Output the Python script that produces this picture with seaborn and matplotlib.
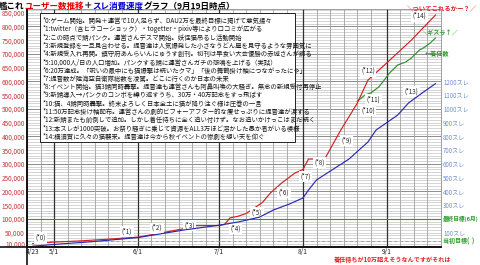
import matplotlib
matplotlib.use('Agg')
import matplotlib.pyplot as plt
import matplotlib.dates as mdates
from matplotlib.lines import Line2D
from matplotlib.patches import Rectangle
import matplotlib.transforms as mtransforms
import numpy as np
import pandas as pd
import seaborn as sns

# ---------------- data ----------------
user_dates = ["2013-04-23", "2013-04-26", "2013-05-01", "2013-05-10", "2013-05-20",
              "2013-06-01", "2013-06-10", "2013-06-18", "2013-06-21", "2013-06-23",
              "2013-07-01", "2013-07-03", "2013-07-05", "2013-07-08", "2013-07-11",
              "2013-07-14", "2013-07-17", "2013-07-20", "2013-07-24", "2013-07-29",
              "2013-08-01", "2013-08-03", "2013-08-09", "2013-08-15", "2013-08-21",
              "2013-08-25", "2013-09-01", "2013-09-10", "2013-09-19"]
user_values = [10000, 12000, 16000, 20000, 26000,
               34000, 50000, 65000, 74000, 76000,
               76000, 80000, 104000, 110000, 120000,
               140000, 160000, 195000, 230000, 267000,
               280000, 318000, 318000, 424000, 520000,
               605000, 668000, 750000, 842000]

thread_dates = ["2013-04-23", "2013-05-01", "2013-05-15", "2013-06-01", "2013-06-18",
                "2013-07-01", "2013-07-08", "2013-07-16", "2013-07-21", "2013-07-27",
                "2013-08-01", "2013-08-03", "2013-08-06", "2013-08-10", "2013-08-18",
                "2013-08-25", "2013-08-28", "2013-09-05", "2013-09-09", "2013-09-14",
                "2013-09-19"]
thread_values = [2, 15, 35, 65, 120,
                 155, 178, 214, 265, 309,
                 353, 410, 484, 535, 636,
                 760, 847, 956, 1044, 1116,
                 1185]

assigned_dates = ["2013-08-21", "2013-08-24", "2013-08-26", "2013-08-29", "2013-08-31",
                  "2013-09-02", "2013-09-05", "2013-09-08", "2013-09-10", "2013-09-13",
                  "2013-09-15", "2013-09-17", "2013-09-19"]
assigned_values = [528000, 551000, 558000, 580000, 605000,
                   631000, 660000, 671000, 685000, 714000,
                   725000, 740000, 758000]

event_labels = ["(*0)", "(*1)", "(*2)", "(*3)", "(*4)", "(*5)", "(*6)", "(*7)",
                "(*8)", "(*9)", "(*10)", "(*11)", "(*12)", "(*13)", "(*14)"]
event_dates = ["2013-04-26", "2013-05-28", "2013-06-08", "2013-06-20", "2013-07-07",
               "2013-07-15", "2013-07-25", "2013-08-02", "2013-08-07", "2013-08-17",
               "2013-08-25", "2013-08-27", "2013-08-25", "2013-09-10", "2013-09-13"]
event_values = [31000, 53000, 67000, 75000, 64000,
                125000, 195000, 253000, 304000, 384000,
                496000, 536000, 638000, 565000, 838000]

event_texts = [
    "*0:ゲーム開始。開発＋運営で10人足らず、DAU2万を最終目標に掲げて意気揚々",
    "*1:twitter（含ヒラコーショック）・togetter・pixiv等により口コミが広がる",
    "*2:この時点で鯖パンク。運営さんデスマ開始。妖怪猫吊るし活動開始",
    "*3:新規登録を一旦見合わせる。提督達は人気爆発した小さなうどん屋を見守るような雰囲気に",
    "*4:新規受入れ再開。鎮守府あんらいんにゅうす創刊。初刊は早食い大会優勝の赤城さんが飾る",
    "*5:10,000人/日の人口増加。パンクする鯖に運営さんガチの悲鳴を上げる（実話）",
    "*6:20万達成。「呪いの最中にも猫爆撃は続いたクマ」「後の舞鶴掛け軸につながったにゃ」",
    "*7:提督数が陸海空自衛隊総数を凌駕。どこに行くのか日本の未来",
    "*8:イベント開始。猫3鯖同時轟撃。提督達も運営さんも阿鼻叫喚の大騒ぎ。無念の新規受付再停止",
    "*9:新鯖導入→パンクのコンボを繰り返すうち、30万・40万記念をすっ飛ばす",
    "*10:猫、4鯖同時轟撃。終末よろしく日本全土に猫が降り注ぐ様は圧巻の一言",
    "*11:50万記念掛け軸配布。運営さんの劇的ビフォーアフター的な痩せっぷりに提督達が涙する",
    "*12:新鯖またも前倒しで追加。しかし着任待ちに全く追い付けず。なお追いかけっこはまだ続く",
    "*13:本スレが1000突破。お祭り騒ぎに乗じて資源をALL3万ほど溶かした愚か者がいる模様",
    "*14:横須賀に久々の猫襲来。提督達は今から秋イベントの惨劇を想い天を仰ぐ",
]

y_ticks = [10000] + list(range(50000, 850001, 50000))
thread_ticks = [100, 300, 400, 500, 600, 700, 800, 900, 1000, 1100, 1200]
month_ticks = ["2013-04-23", "2013-05-01", "2013-06-01", "2013-07-01", "2013-08-01", "2013-09-01"]
month_tick_labels = ["4/23", "5/1", "6/1", "7/1", "8/1", "9/1"]
goal_final = 100000
goal_initial = 20000

title_parts = [("艦これ", "#000000"), ("ユーザー数推移", "#e00000"), ("＋", "#000000"),
               ("スレ消費速度", "#0000d0"), ("グラフ（9月19日時点）", "#000000")]

# ---------------- style ----------------
sns.set_style("white")
plt.rcParams['font.family'] = ['Noto Sans CJK JP', 'DejaVu Sans']

W, H = 480, 265
fig = plt.figure(figsize=(W / 100, H / 100), dpi=100)
L, R, T, B = 27, 441, 9, 246.5
ax = fig.add_axes([L / W, 1 - B / H, (R - L) / W, (B - T) / H])

YMAX = 863600
x0 = pd.Timestamp("2013-04-21")
x1 = pd.Timestamp("2013-09-21")

# grid
for v in range(10000, YMAX, 10000):
    if v % 100000 == 0:
        ax.axhline(v, color="#7a7a7a", lw=0.6, zorder=0)
    else:
        ax.axhline(v, color="#bcbcbc", lw=0.45, zorder=0)
for d in pd.date_range("2013-04-21", "2013-09-21"):
    if d.day == 1:
        ax.axvline(d, color="#303030", lw=0.9, zorder=0.5)
    elif d.day in (6, 11, 16, 21, 26):
        ax.axvline(d, color="#9a9a9a", lw=0.55, zorder=0.2)

ax.axhline(goal_final, color="#2e9a2e", lw=0.8, zorder=1)
ax.axhline(goal_initial, color="#9fb09f", lw=0.8, ls=(0, (3, 2)), zorder=1)

users_df = pd.DataFrame({"date": pd.to_datetime(user_dates), "users": user_values})
assigned_df = pd.DataFrame({"date": pd.to_datetime(assigned_dates), "users": assigned_values})
threads_df = pd.DataFrame({"date": pd.to_datetime(thread_dates), "threads": thread_values})

sns.lineplot(data=assigned_df, x="date", y="users", ax=ax, color="#2f8f2f", lw=0.85, zorder=3)
sns.lineplot(data=users_df, x="date", y="users", ax=ax, color="#d42020", lw=0.85, zorder=3)

ax.set_xlim(x0, x1)
ax.set_ylim(0, YMAX)
ax.set_xlabel("")
ax.set_ylabel("")
ax.set_yticks(y_ticks)
ax.set_yticklabels([f"{v:,}" for v in y_ticks], color="#c03838", fontsize=4.6)
ax.set_xticks(pd.to_datetime(month_ticks))
ax.set_xticklabels(month_tick_labels, fontsize=4.8, color="#222222")
ax.tick_params(axis="both", length=0, pad=1.5)
ax.tick_params(axis="x", pad=1.0)
for s in ["top", "right"]:
    ax.spines[s].set_color("#909090")
    ax.spines[s].set_linewidth(0.6)
for s in ["left", "bottom"]:
    ax.spines[s].set_color("#111111")
    ax.spines[s].set_linewidth(1.2)

# event labels
for lab, d, v in zip(event_labels, event_dates, event_values):
    ax.text(pd.Timestamp(d), v, lab, fontsize=4.4, ha="center", va="center", color="#222222",
            zorder=6, bbox=dict(boxstyle="square,pad=0.25", fc="white", ec="none"))

# twin axis for threads
ax2 = ax.twinx()
sns.lineplot(data=threads_df, x="date", y="threads", ax=ax2, color="#2a2ab0", lw=0.85, zorder=3)
ax2.set_ylim(0, YMAX / 500)
ax2.set_xlim(x0, x1)
ax2.set_ylabel("")
ax2.set_yticks(thread_ticks)
ax2.set_yticklabels([f"{v}スレ" for v in thread_ticks], color="#6f8fcf", fontsize=4.4)
ax2.tick_params(axis="y", length=0, pad=1.5)
for s in ax2.spines.values():
    s.set_visible(False)

# right side labels
trans = mtransforms.blended_transform_factory(ax.transAxes, ax.transData)
ax.text(1.004, goal_final, "最終目標(6月)", transform=trans, fontsize=4.1, color="#2e9a2e",
        fontweight="bold", ha="left", va="center", clip_on=False)
ax.text(1.004, goal_initial, "当初目標(  )", transform=trans, fontsize=4.3, color="#2e9a2e",
        fontweight="bold", ha="left", va="center", clip_on=False)

ax.text(pd.Timestamp("2013-09-08 09:00"), 863000, "＼ついてこれるかー？／", fontsize=4.6,
        color="#e02020", fontweight="bold", ha="left", va="center", clip_on=False, zorder=7)
ax.text(pd.Timestamp("2013-09-14"), 776000, "＼ギスラ↑／", fontsize=4.4,
        color="#2e9a2e", fontweight="bold", ha="left", va="center", clip_on=False, zorder=7)
ax.text(pd.Timestamp("2013-09-15"), 700000, "←着任数", fontsize=4.4,
        color="#2e9a2e", fontweight="bold", ha="left", va="center", clip_on=False, zorder=7)

# extended axis lines
fig.add_artist(Line2D([L / W, L / W], [0, 1 - T / H], color="#111111", lw=1.2))
fig.add_artist(Line2D([0, R / W], [1 - B / H, 1 - B / H], color="#111111", lw=1.2))

# event description box
box_l, box_t, box_r, box_b = 40, 13, 295, 142
fig.add_artist(Rectangle((box_l / W, 1 - box_b / H), (box_r - box_l) / W, (box_b - box_t) / H,
                         transform=fig.transFigure, fc="white", ec="#222222", lw=0.7, zorder=5))
for i, line in enumerate(event_texts):
    fig.text((box_l + 3) / W, 1 - (21 + i * 8.27) / H, line, fontsize=4.6, color="#1a1a1a",
             ha="left", va="center", zorder=6)

# title with coloured parts (placed one after another)
renderer = fig.canvas.get_renderer()
x_px = -1.0
title_y = 1 - 8.5 / H
for s, c in title_parts:
    t = fig.text(x_px / W, title_y, s, fontsize=6.15, fontweight="bold", color=c,
                 ha="left", va="baseline")
    x_px += t.get_window_extent(renderer=renderer).width

fig.text(393 / W, 1 - 259.5 / H, "着任待ちが10万超えそうなんですがそれは", fontsize=4.4,
         color="#e02020", fontweight="bold", ha="center", va="center")

fig.savefig("out.png", dpi=100, facecolor="white")
